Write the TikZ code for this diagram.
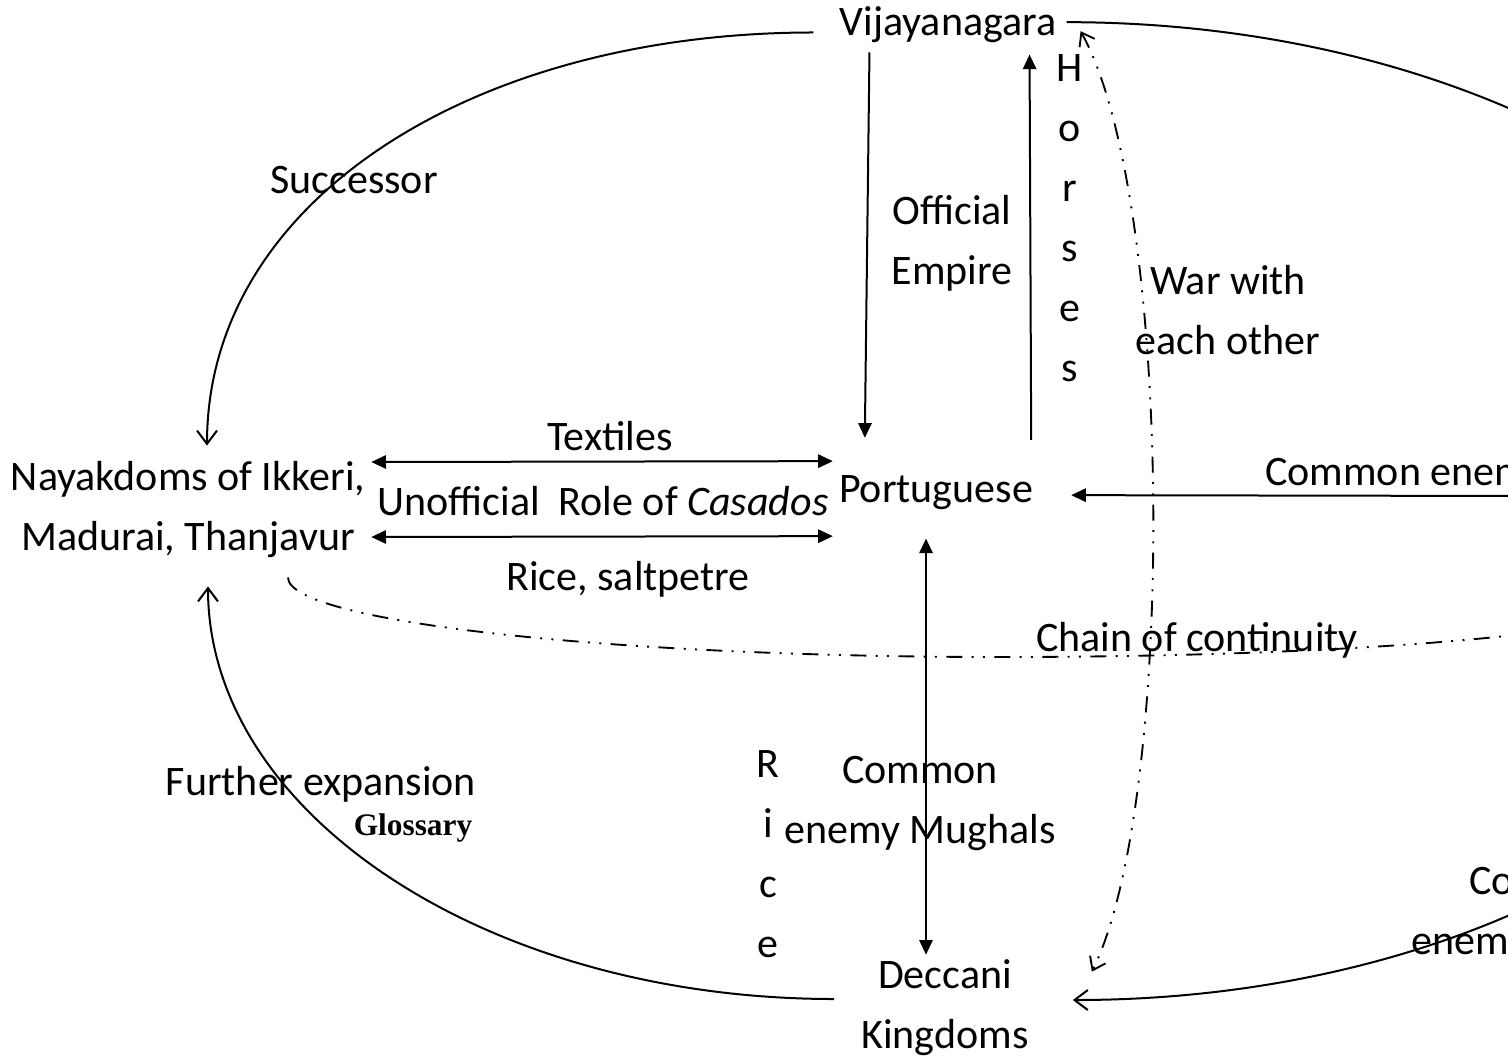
\documentclass[tikz,border=0pt]{standalone}
\usepackage{fontspec}
\setmainfont{Carlito}
\newfontfamily\glossfont{Liberation Serif}
\usetikzlibrary{arrows.meta,calc}

\tikzset{
  txt/.style={inner sep=0pt,font=\fontsize{31.5}{45}\selectfont},
  mline/.style={txt,align=center},
  solidtip/.style={line width=1.5pt,-{Triangle[length=11pt,width=10pt]}},
  solidboth/.style={line width=1.5pt,{Triangle[length=11pt,width=10pt]}-{Triangle[length=11pt,width=10pt]}},
  opentip/.style={line width=1.5pt,-{Straight Barb[length=10pt,width=15pt]}},
  openboth/.style={line width=1.4pt,{Straight Barb[length=9pt,width=13pt]}-{Straight Barb[length=9pt,width=13pt]}},
  chainline/.style={line width=1.4pt,dash pattern=on 12pt off 7pt on 1.5pt off 7pt on 1.5pt off 7pt},
}

\begin{document}
\begin{tikzpicture}[x=0.75pt,y=0.75pt,yscale=-1,xscale=1]
\useasboundingbox (0,0) rectangle (1508,1061);
\clip (0,0) rectangle (1508,1061);

% Main Nodes
\node[txt,anchor=base] (viz) at (948,35) {Vijayanagara};
\node[txt,anchor=base] (port) at (936,502) {Portuguese};
\node[mline] (nayak) at (188,510) {Nayakdoms of Ikkeri,\\Madurai, Thanjavur};
\node[mline] (deccan) at (945,1008) {Deccani\\Kingdoms};

% Text Node
\node[txt,anchor=base] (succ) at (354,193) {Successor};
% Text Node
\node[mline] (offemp) at (952,243) {Official\\Empire};
% Text Node
\node[mline] (horses) at (1070,218) {H\\o\\r\\s\\e\\s};
% Text Node
\node[mline] (war) at (1228,310) {War with\\each other};
% Text Node
\node[txt,anchor=base] (textiles) at (610,450) {Textiles};
% Text Node
\node[txt,anchor=base] (casados) at (603,515) {Unofficial\ \ Role of \textit{Casados}};
% Text Node
\node[txt,anchor=base] (ricesalt) at (628,590) {Rice, saltpetre};
% Text Node
\node[txt,anchor=base] (chain) at (1197,651) {Chain of continuity};
% Text Node
\node[txt,anchor=base west] (comen) at (1265,485) {Common enemy};
% Text Node
\node[mline] (rice) at (768,854) {R\\i\\c\\e};
% Text Node
\node[mline] (mughal) at (920,803) {Common\\enemy Mughals};
% Text Node
\node[mline] (mughalR) at (1547,914) {Common\\enemy Mughals};
% Text Node
\node[txt,anchor=base] (further) at (321,795) {Further expansion};
% Text Node
\node[inner sep=0pt,anchor=base,font=\glossfont\bfseries\fontsize{23.5}{28}\selectfont] (gloss) at (413,835) {Glossary};

%Curve Lines
\draw[opentip] ($(viz.south west)+(-26,-10)$) .. controls +(-340,0) and +(0,-245) .. ($(nayak.north)+(19,-16)$);
%Straight Lines
\draw[solidtip] ($(viz.south west)+(30,10)$) -- ($(port.north west)+(26,-37)$);
%Straight Lines
\draw[solidtip] ($(port.north east)+(-2,-35)$) -- ($(viz.south east)+(-27,12)$);
%Straight Lines
\draw[solidboth] ($(nayak.east)+(6,-48)$) -- ($(port.west)+(-6,-31)$);
%Straight Lines
\draw[solidboth] ($(nayak.east)+(6,27)$) -- ($(port.west)+(-6,44)$);
%Straight Lines
\draw[solidboth] ($(port.south)+(-10,29)$) -- ($(deccan.north)+(-19,-5)$);
%Straight Lines
\coordinate (offE) at (1530,496);
\draw[solidtip] (offE) -- ($(port.east)+(38,3)$);
%Curve Lines
\draw[opentip] ($(deccan.west)+(-27,-9)$) .. controls +(-346,0) and +(0,228) .. ($(nayak.south)+(20,28)$);
%Curve Lines
\coordinate (chainM) at (1000,657);
\coordinate (chainR) at (1712,578);
\draw[chainline] ($(nayak.south)+(100,19)$) .. controls +(0,44) and +(-393,0) .. (chainM) .. controls +(393,0) and +(0,50) .. (chainR);
%Curve Lines
\draw[chainline,openboth] ($(viz.east)+(24,7)$) .. controls +(93,167) and +(85,-172) .. ($(deccan.north east)+(63,12)$);
%Curve Lines
\coordinate (farR) at (1848,511);
\draw[opentip] ($(viz.east)+(10,-2)$) .. controls +(430,0) and +(0,-270) .. (farR) .. controls +(0,270) and +(427,0) .. ($(deccan.east)+(44,-8)$);

\end{tikzpicture}
\end{document}
